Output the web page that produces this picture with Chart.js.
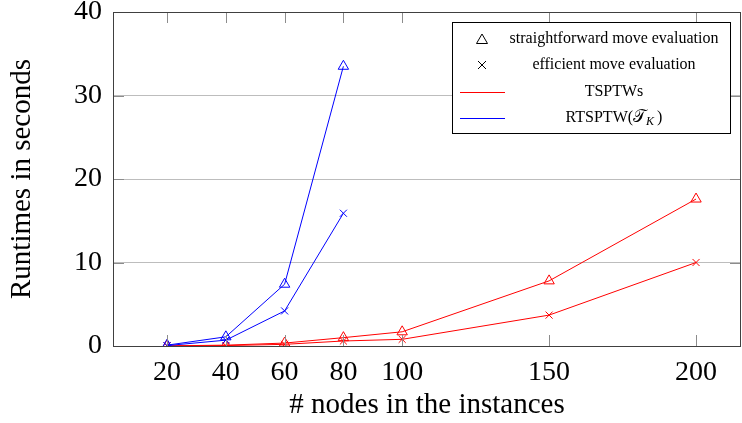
<!DOCTYPE html>
<html>
<head>
<meta charset="utf-8">
<script src="https://cdn.jsdelivr.net/npm/chart.js@4/dist/chart.umd.min.js"></script>
<style>
  html, body { margin: 0; padding: 0; background: #fff; overflow: hidden; }
  #wrap { width: 742px; height: 423px; }
</style>
</head>
<body>
<div id="wrap"><canvas id="grafica"></canvas></div>
<script>
// valores
const nodosRTSPTW = [20, 40, 60, 80];
const nodosTSPTW = [20, 40, 60, 80, 100, 150, 200];
const rtsptwDirecta = [0.1, 1.1, 7.4, 33.5];
const rtsptwEficiente = [0.05, 0.7, 4.2, 15.9];
const tsptwDirecta = [0.02, 0.1, 0.35, 1.0, 1.7, 7.8, 17.6];
const tsptwEficiente = [0.01, 0.05, 0.2, 0.6, 0.8, 3.7, 10.0];
const ticksX = [20, 40, 60, 80, 100, 150, 200];
const ticksY = [0, 10, 20, 30, 40];
const leyenda = ["straightforward move evaluation", "efficient move evaluation", "TSPTWs", "RTSPTW("];

const serif = "'Liberation Serif', 'DejaVu Serif', serif";
const rojo = "rgb(255,0,0)";
const azul = "rgb(0,0,255)";

function puntos(xs, ys) {
  return xs.map((x, i) => ({ x: x, y: ys[i] }));
}

function serie(xs, ys, color, estilo) {
  return {
    data: puntos(xs, ys),
    borderColor: color,
    backgroundColor: "rgba(0,0,0,0)",
    borderWidth: 1,
    pointStyle: estilo,
    pointRadius: estilo === "triangle" ? 6 : 5,
    pointBorderWidth: 1,
    pointBorderColor: color,
    tension: 0
  };
}

// marcas hacia dentro, marco y leyenda al estilo pgfplots
const marcoPlugin = {
  id: "marco",
  afterDatasetsDraw(chart) {
    const ctx = chart.ctx;
    const a = chart.chartArea;
    const sx = chart.scales.x, sy = chart.scales.y;
    ctx.save();
    ctx.strokeStyle = "#8c8c8c";
    ctx.lineWidth = 1;
    ctx.beginPath();
    ticksX.forEach((t) => {
      const px = Math.round(sx.getPixelForValue(t)) + 0.5;
      ctx.moveTo(px, a.bottom); ctx.lineTo(px, a.bottom - 11);
      ctx.moveTo(px, a.top); ctx.lineTo(px, a.top + 11);
    });
    ticksY.forEach((t) => {
      const py = Math.round(sy.getPixelForValue(t)) + 0.5;
      ctx.moveTo(a.left, py); ctx.lineTo(a.left + 11, py);
      ctx.moveTo(a.right, py); ctx.lineTo(a.right - 11, py);
    });
    ctx.stroke();

    ctx.strokeStyle = "#404040";
    ctx.strokeRect(Math.round(a.left) + 0.5, Math.round(a.top) + 0.5,
      Math.round(a.right - a.left) - 1, Math.round(a.bottom - a.top));

    // leyenda
    const bx = 452.5, by = 22.5, bw = 278, bh = 111;
    ctx.fillStyle = "#fff";
    ctx.fillRect(bx, by, bw, bh);
    ctx.strokeStyle = "#000";
    ctx.strokeRect(bx, by, bw, bh);
    const filas = [39, 65, 92, 118];
    const cx = 614;
    const fLey = "16px " + serif;
    ctx.font = fLey;
    ctx.fillStyle = "#000";
    ctx.textBaseline = "middle";
    ctx.textAlign = "center";
    // triángulo
    ctx.beginPath();
    ctx.moveTo(482, filas[0] - 5); ctx.lineTo(487.5, filas[0] + 4.5); ctx.lineTo(476.5, filas[0] + 4.5);
    ctx.closePath();
    ctx.strokeStyle = "#000";
    ctx.stroke();
    // aspa
    ctx.beginPath();
    ctx.moveTo(478, filas[1] - 4); ctx.lineTo(486, filas[1] + 4);
    ctx.moveTo(486, filas[1] - 4); ctx.lineTo(478, filas[1] + 4);
    ctx.stroke();
    // líneas
    ctx.strokeStyle = rojo;
    ctx.beginPath(); ctx.moveTo(460, filas[2] + 0.5); ctx.lineTo(505, filas[2] + 0.5); ctx.stroke();
    ctx.strokeStyle = azul;
    ctx.beginPath(); ctx.moveTo(460, filas[3] + 0.5); ctx.lineTo(505, filas[3] + 0.5); ctx.stroke();

    ctx.fillText(leyenda[0], cx, filas[0]);
    ctx.fillText(leyenda[1], cx, filas[1]);
    ctx.fillText(leyenda[2], cx, filas[2]);
    // RTSPTW(T_K)
    const p1 = leyenda[3], p2 = "\u{1D4AF}", p3 = "K", p4 = ")";
    const fCal = "17px 'DejaVu Sans', serif";
    const fSub = "italic 12px " + serif;
    ctx.font = fLey;
    const w1 = ctx.measureText(p1).width;
    ctx.font = fCal;
    const w2 = ctx.measureText(p2).width;
    ctx.font = fSub;
    const w3 = ctx.measureText(p3).width;
    ctx.font = fLey;
    const w4 = ctx.measureText(p4).width;
    let x0 = cx - (w1 + w2 + w3 + w4 + 3) / 2;
    ctx.textAlign = "left";
    ctx.fillText(p1, x0, filas[3]); x0 += w1;
    ctx.font = fCal;
    ctx.fillText(p2, x0, filas[3]); x0 += w2;
    ctx.font = fSub;
    ctx.fillText(p3, x0, filas[3] + 4); x0 += w3 + 3;
    ctx.font = fLey;
    ctx.fillText(p4, x0, filas[3]);
    ctx.restore();
  }
};

function crearGrafica() {
  const canvas = document.getElementById("grafica");
  new Chart(canvas, {
    type: "line",
    data: {
      datasets: [
        serie(nodosRTSPTW, rtsptwDirecta, azul, "triangle"),
        serie(nodosRTSPTW, rtsptwEficiente, azul, "crossRot"),
        serie(nodosTSPTW, tsptwDirecta, rojo, "triangle"),
        serie(nodosTSPTW, tsptwEficiente, rojo, "crossRot")
      ]
    },
    options: {
      responsive: true,
      maintainAspectRatio: false,
      animation: false,
      layout: { autoPadding: false, padding: { top: 12, right: 1, left: 0, bottom: 0 } },
      plugins: { legend: { display: false }, tooltip: { enabled: false } },
      scales: {
        x: {
          type: "linear",
          min: 1.6,
          max: 215.3,
          afterBuildTicks: (s) => { s.ticks = ticksX.map((v) => ({ value: v })); },
          afterFit: (s) => { s.height = 77; s.paddingLeft = 0; s.paddingRight = 0; },
          grid: { display: false },
          border: { display: false },
          ticks: { color: "#000", font: { family: serif, size: 28 }, padding: 2, maxRotation: 0, autoSkip: false },
          title: { display: true, text: "# nodes in the instances", color: "#000", font: { family: serif, size: 29 }, padding: { top: 0, bottom: 0 } }
        },
        y: {
          min: 0,
          max: 40,
          afterBuildTicks: (s) => { s.ticks = ticksY.map((v) => ({ value: v })); },
          afterFit: (s) => { s.width = 113; s.paddingTop = 0; s.paddingBottom = 0; },
          grid: { color: (c) => (c.tick.value === 0 || c.tick.value === 40 ? "rgba(0,0,0,0)" : "#bdbdbd"), drawTicks: false },
          border: { display: false },
          ticks: { color: "#000", font: { family: serif, size: 28 }, padding: 11 },
          title: { display: true, text: "Runtimes in seconds", color: "#000", font: { family: serif, size: 29 }, padding: { top: 5, bottom: 0 } }
        }
      }
    },
    plugins: [marcoPlugin]
  });
}

window.onload = crearGrafica;
</script>
</body>
</html>
